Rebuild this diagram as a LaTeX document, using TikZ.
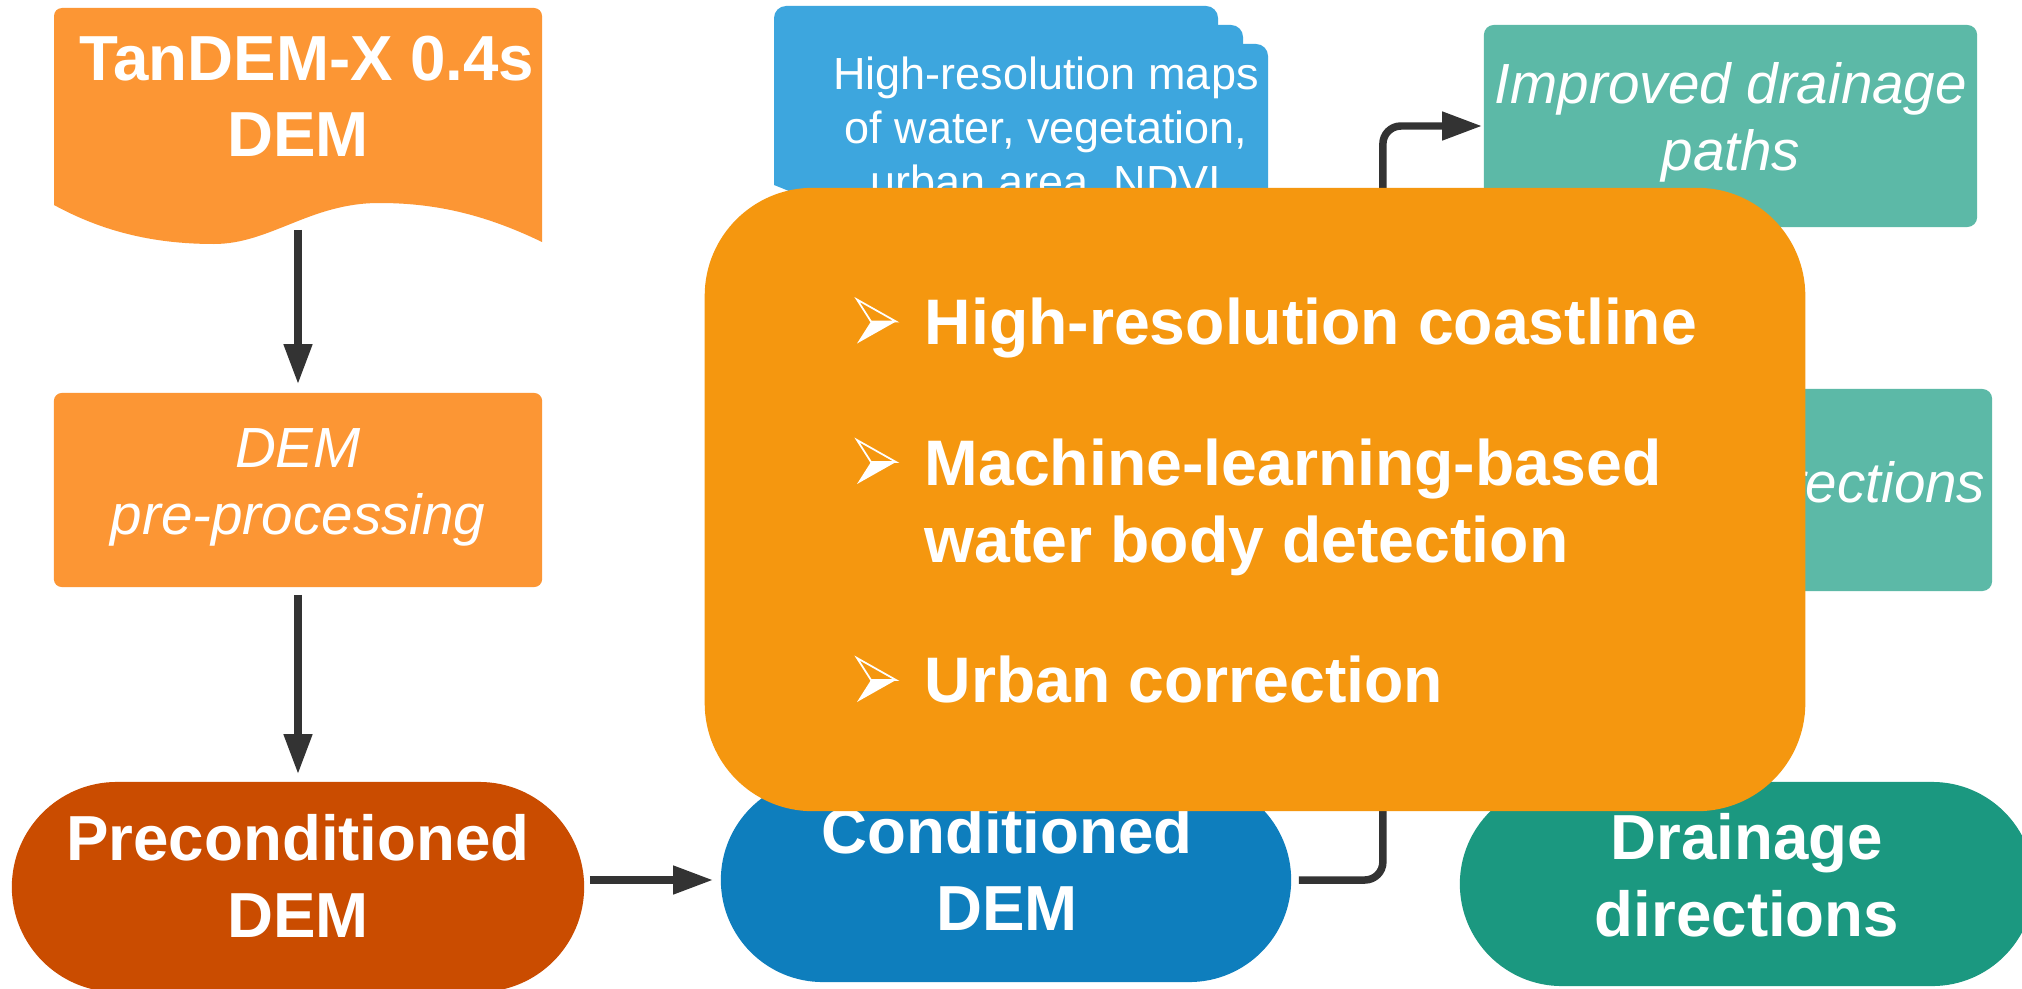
\documentclass[tikz,border=0pt]{standalone}
\usepackage{fontspec}
\setmainfont{Liberation Sans}
\usetikzlibrary{arrows.meta,calc}
\definecolor{lorange}{HTML}{FC9634}
\definecolor{dorange}{HTML}{CA4C00}
\definecolor{morange}{HTML}{F5970F}
\definecolor{cblue}{HTML}{0E7EBD}
\definecolor{lblue}{HTML}{3DA6DE}
\definecolor{lteal}{HTML}{5CB9A7}
\definecolor{dteal}{HTML}{1B9880}
\definecolor{arrowc}{HTML}{333333}
\tikzset{
 arr/.style={draw=arrowc, line width=2.13pt, -{Triangle[length=0.40cm,width=0.27cm]}},
 txt/.style={text=white, inner sep=0pt, align=center},
 boldtxt/.style={txt, font=\fontsize{18.1pt}{21.9pt}\selectfont\bfseries},
 itxt/.style={txt, font=\fontsize{16.1pt}{19.1pt}\selectfont\itshape},
 stad/.style={rounded corners=1.02cm, inner sep=0pt},
 boxr/.style={rounded corners=0.1cm, inner sep=0pt},
 bultxt/.style={text=white, inner sep=0pt, align=left, font=\fontsize{18.3pt}{21.8pt}\selectfont\bfseries},
 bulpic/.pic={
   \fill[white] (-5.5,0) -- (19.5,0) -- (-19.5,22) -- cycle;
   \draw[white, line width=0.5pt, line join=miter] (-19.5,-22) -- (19.5,0) -- (-5.5,0) -- cycle;
 }
}
\begin{document}
\begin{tikzpicture}[x=0.01cm,y=-0.01cm]
\useasboundingbox (0,0) rectangle (2022,988);
\clip (0,0) rectangle (2022,988);
\fill[white] (0,0) rectangle (2022,988);

% stacked documents (blue)
\fill[lblue, rounded corners=0.12cm] (824,260) -- (824,44) -- (1268,44) -- (1268,260) -- cycle;
\fill[lblue, rounded corners=0.12cm] (799,240) -- (799,25) -- (1243,25) -- (1243,240) -- cycle;
\fill[lblue] (774,185) -- (774,18) .. controls (774,11.4) and (779.4,6) .. (786,6) -- (1206,6)
  .. controls (1212.6,6) and (1218,11.4) .. (1218,18) -- (1218,240)
  .. controls (1100,200) and (1000,240) .. (900,225) .. controls (840,215) and (800,195) .. (774,185) -- cycle;
\node[txt, font=\fontsize{12.8pt}{15.4pt}\selectfont] (mapsT) at (1046,130) {High-resolution maps\\of water, vegetation,\\urban area, NDVI};

% TanDEM document
\fill[lorange] (54,205) -- (54,16) .. controls (54,11.6) and (57.6,8) .. (62,8) -- (534,8)
  .. controls (538.4,8) and (542,11.6) .. (542,16) -- (542,242)
  .. controls (480,212) and (430,203) .. (379,203)
  .. controls (310,203) and (270,244) .. (214,244)
  .. controls (150,244) and (100,230) .. (54,205) -- cycle;
\node[minimum width=4.88cm, minimum height=2.16cm, inner sep=0pt] (tandem) at (298,116) {};
\node[txt, font=\fontsize{18.1pt}{21.6pt}\selectfont\bfseries] (tandemT) at (298,96.5) {\kern0.278em TanDEM-X 0.4s\\DEM};

% pre-processing
\node[fill=lorange, inner sep=0pt, rounded corners=0.08cm, minimum width=4.88cm, minimum height=1.94cm] (preproc) at (298,490) {};
\node[itxt] (preprocT) at (298,487) {DEM\\pre-processing};

% preconditioned
\node[stad, fill=dorange, rounded corners=1.05cm, minimum width=5.72cm, minimum height=2.1cm] (pre) at (298,887) {};
\node[boldtxt] (preT) at (298,875.5) {Preconditioned\\DEM};

% teal boxes
\node[boxr, fill=lteal, minimum width=4.93cm, minimum height=2.02cm] (impr) at (1730.5,126) {};
\node[itxt] (imprT) at (1731,122) {Improved drainage\\paths};
\node[boxr, fill=lteal, minimum width=4.93cm, minimum height=2.02cm] (corr) at (1745.5,490) {};
\node[itxt, anchor=base east] (corrT) at (1986,502) {corrections};

% conditioned and drainage
\node[stad, fill=cblue, minimum width=5.7cm, minimum height=2.04cm] (cond) at (1006,880) {};
\node[boldtxt] (condT) at (1007,869) {Conditioned\\DEM};
\node[stad, fill=dteal, minimum width=5.74cm, minimum height=2.04cm] (drain) at (1747,884) {};
\node[boldtxt] (drainT) at (1747,875) {Drainage\\directions};

% arrows
\draw[arr, shorten <=0.05cm, shorten >=0.08cm] (tandem.south) -- (preproc.north);
\draw[arr, shorten <=0.07cm, shorten >=0.07cm] (preproc.south) -- (pre.north);
\draw[arr, shorten <=0.05cm, shorten >=0.07cm] (pre.east |- cond.west) -- (cond.west);
\draw[arr, rounded corners=0.18cm, shorten <=0.07cm, shorten >=0.01cm] (cond.east) -- ++(91,0) |- (impr.west);

% main orange box
\node[fill=morange, inner sep=0pt, rounded corners=1.08cm, minimum width=11cm, minimum height=6.23cm] (feat) at (1255,499.5) {};
\pic at (876.5,321.5) {bulpic};
\node[bultxt, anchor=base west] (b1) at (924,344.5) {High-resolution coastline};
\pic at (876.5,462) {bulpic};
\node[bultxt, anchor=north west] (b2) at (924,438.6) {Machine-learning-based\\water body detection};
\pic at (876.5,680) {bulpic};
\node[bultxt, anchor=base west] (b3) at (924,702) {Urban correction};
\end{tikzpicture}
\end{document}
